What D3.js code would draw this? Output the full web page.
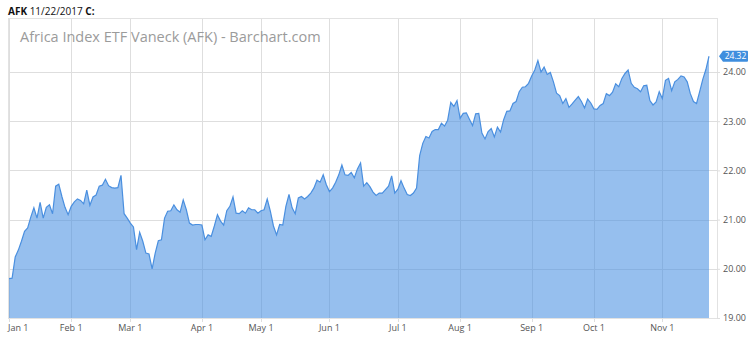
<!DOCTYPE html>
<html>
<head>
<meta charset="utf-8">
<script src="https://cdn.jsdelivr.net/npm/d3@7"></script>
<style>
body { margin: 0; background: #fff; font-family: "Open Sans", sans-serif; }
</style>
</head>
<body>
<script>
var width = 750;
var height = 338;

// closing prices, one per trading day, Jan 3 - Nov 22 2017
var closes = [
  19.80, 19.81, 20.24, 20.38, 20.56, 20.76, 20.83, 21.05, 21.24, 21.03,
  21.35, 21.03, 21.25, 21.30, 21.12, 21.68, 21.72, 21.47, 21.25, 21.10,
  21.27, 21.36, 21.42, 21.39, 21.32, 21.60, 21.29, 21.46, 21.50, 21.68,
  21.70, 21.82, 21.69, 21.65, 21.64, 21.65, 21.90, 21.12, 21.03, 20.93,
  20.85, 20.39, 20.74, 20.56, 20.32, 20.30, 20.00, 20.32, 20.57, 20.59,
  21.03, 21.17, 21.18, 21.30, 21.20, 21.15, 21.40, 21.20, 20.93, 20.89,
  20.90, 20.90, 20.89, 20.59, 20.69, 20.66, 20.87, 21.10, 20.97, 20.89,
  21.18, 21.27, 21.46, 21.13, 21.12, 21.18, 21.13, 21.24, 21.20, 21.20,
  21.13, 21.18, 21.20, 21.42, 21.17, 20.87, 20.69, 20.90, 20.89, 21.27,
  21.51, 21.24, 21.12, 21.44, 21.47, 21.42, 21.47, 21.54, 21.64, 21.80,
  21.76, 21.91, 21.71, 21.57, 21.64, 21.76, 21.91, 22.11, 21.91, 21.90,
  21.96, 21.85, 22.03, 22.15, 21.68, 21.75, 21.67, 21.56, 21.49, 21.54,
  21.54, 21.61, 21.68, 21.89, 21.54, 21.62, 21.79, 21.64, 21.51, 21.49,
  21.54, 21.64, 22.30, 22.55, 22.69, 22.66, 22.79, 22.83, 22.83, 22.96,
  22.90, 23.02, 23.38, 23.30, 23.42, 23.06, 23.16, 23.17, 23.04, 22.91,
  23.15, 23.16, 22.76, 22.64, 22.79, 22.85, 22.68, 22.88, 22.78, 23.03,
  23.20, 23.21, 23.36, 23.40, 23.60, 23.69, 23.70, 23.77, 23.92, 24.04,
  24.23, 24.00, 24.10, 23.95, 23.99, 23.80, 23.57, 23.52, 23.36, 23.46,
  23.28, 23.35, 23.43, 23.50, 23.40, 23.27, 23.45, 23.37, 23.25, 23.24,
  23.32, 23.36, 23.56, 23.52, 23.59, 23.76, 23.70, 23.87, 23.97, 24.04,
  23.77, 23.69, 23.66, 23.60, 23.72, 23.73, 23.42, 23.33, 23.39, 23.60,
  23.46, 23.83, 23.87, 23.62, 23.80, 23.85, 23.92, 23.90, 23.80, 23.56,
  23.40, 23.36, 23.60, 23.85, 24.05, 24.32
];

var holidays = ["2017-01-16", "2017-02-20", "2017-04-14", "2017-05-29", "2017-07-04", "2017-09-04"];
var monthLabels = ["Jan 1", "Feb 1", "Mar 1", "Apr 1", "May 1", "Jun 1", "Jul 1", "Aug 1", "Sep 1", "Oct 1", "Nov 1"];
var priceTicks = [19, 20, 21, 22, 23, 24];

// build the trading-day calendar
var fmt = d3.timeFormat("%Y-%m-%d");
var days = [];
var d = new Date(2017, 0, 3);
var end = new Date(2017, 10, 22);
while (d <= end) {
    var wd = d.getDay();
    if (wd != 0 && wd != 6 && holidays.indexOf(fmt(d)) < 0) days.push(new Date(d));
    d = d3.timeDay.offset(d, 1);
}

var data = closes.map(function (c, i) {
    return { i: i, date: days[i], close: c };
});

// first trading day of each month
var monthStarts = monthLabels.map(function (label, m) {
    var idx = days.findIndex(function (day) { return day.getMonth() == m; });
    return { label: label, i: idx };
});

var plotLeft = 8, plotRight = 717, plotTop = 18, plotBottom = 318;

var x = d3.scaleLinear().domain([0, closes.length - 1]).range([9, 709]);
var y = d3.scaleLinear().domain([19, 24]).range([plotBottom, 72]);

var svg = d3.select("body").append("svg")
    .attr("width", width)
    .attr("height", height);

// header
var head = svg.append("text")
    .attr("x", 8)
    .attr("y", 15)
    .attr("font-size", 10)
    .attr("fill", "#111");
head.append("tspan").attr("font-weight", "bold").text("AFK ");
head.append("tspan").text("11/22/2017 ");
head.append("tspan").attr("font-weight", "bold").text("C:");

// grid
svg.append("g")
    .selectAll("line")
    .data(priceTicks)
    .enter().append("line")
    .attr("x1", plotLeft)
    .attr("x2", plotRight)
    .attr("y1", d => Math.round(y(d)) + 0.5)
    .attr("y2", d => Math.round(y(d)) + 0.5)
    .attr("stroke", "#dedede");

svg.append("g")
    .selectAll("line")
    .data(monthStarts)
    .enter().append("line")
    .attr("x1", d => Math.round(x(d.i)) + 0.5)
    .attr("x2", d => Math.round(x(d.i)) + 0.5)
    .attr("y1", plotTop)
    .attr("y2", plotBottom + 4)
    .attr("stroke", "#dedede");

// frame
svg.append("rect")
    .attr("x", plotLeft + 0.5)
    .attr("y", plotTop + 0.5)
    .attr("width", plotRight - plotLeft)
    .attr("height", plotBottom - plotTop)
    .attr("fill", "none")
    .attr("stroke", "#e2e2e2");

// watermark title
svg.append("text")
    .attr("x", 20)
    .attr("y", 42)
    .attr("font-size", 14.5)
    .attr("fill", "#9b9b9b")
    .text("Africa Index ETF Vaneck (AFK) - Barchart.com");

// area + line
var area = d3.area()
    .x(d => x(d.i))
    .y0(plotBottom)
    .y1(d => y(d.close));

var line = d3.line()
    .x(d => x(d.i))
    .y(d => y(d.close));

svg.append("path")
    .datum(data)
    .attr("fill", "#4a90e2")
    .attr("fill-opacity", 0.58)
    .attr("d", area);

svg.append("path")
    .datum(data)
    .attr("fill", "none")
    .attr("stroke", "#4a8fdf")
    .attr("stroke-width", 1.2)
    .attr("d", line);

// right axis
var yAxis = d3.axisRight(y)
    .tickValues(priceTicks)
    .tickFormat(d3.format(".2f"))
    .tickSize(3)
    .tickPadding(3);

var ya = svg.append("g")
    .attr("transform", "translate(" + plotRight + ",0)")
    .call(yAxis);
ya.select(".domain").remove();
ya.selectAll("line").attr("stroke", "#dedede");
ya.selectAll("text").attr("font-family", "Open Sans").attr("font-size", 9).attr("fill", "#555");

// month labels
svg.append("g")
    .selectAll("text")
    .data(monthStarts)
    .enter().append("text")
    .attr("x", d => d.i == 0 ? plotLeft : x(d.i))
    .attr("y", 331)
    .attr("text-anchor", d => d.i == 0 ? "start" : "middle")
    .attr("font-size", 9)
    .attr("fill", "#555")
    .text(d => d.label);

// last price flag
var last = data[data.length - 1];
var ly = y(last.close);
var flag = svg.append("g").attr("transform", "translate(719," + ly + ")");
flag.append("path")
    .attr("d", "M0,0 L4,-5.5 L28,-5.5 Q29,-5.5 29,-4.5 L29,4.5 Q29,5.5 28,5.5 L4,5.5 Z")
    .attr("fill", "#3f8ede");
flag.append("text")
    .attr("x", 16.5)
    .attr("y", 3.2)
    .attr("text-anchor", "middle")
    .attr("font-size", 8.5)
    .attr("fill", "#fff")
    .text(last.close.toFixed(2));
</script>
</body>
</html>
